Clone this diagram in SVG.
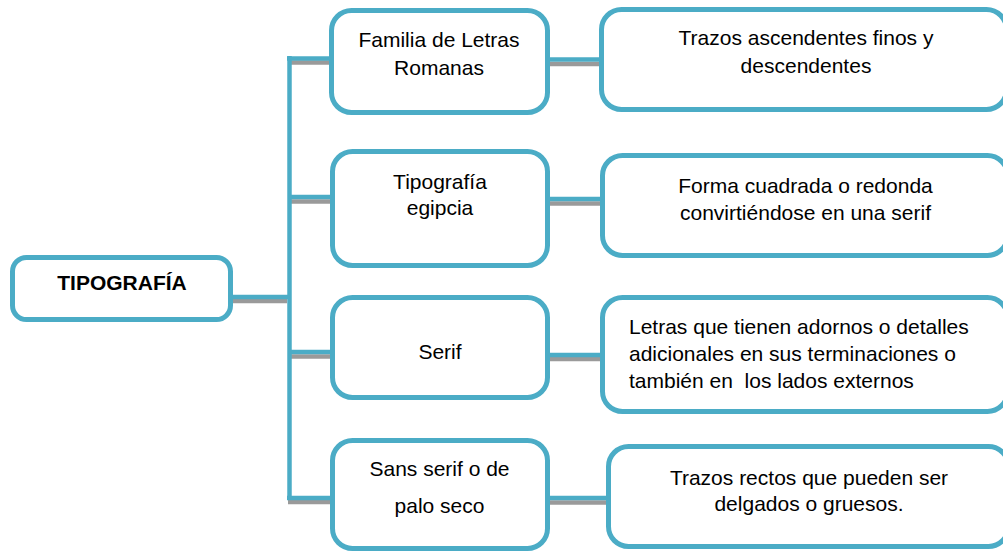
<svg xmlns="http://www.w3.org/2000/svg" width="1003" height="552" viewBox="0 0 1003 552">
<style>
.box{fill:#ffffff;stroke:#4bacc6;stroke-width:5}
.t{font-family:"Liberation Sans",Arial,sans-serif;font-size:21px;fill:#000000}
.c{text-anchor:middle}
.b{font-weight:bold}
.teal{stroke:#4bacc6;stroke-width:4.5;fill:none}
.sh{stroke:#9a9a9a;stroke-width:4.5;fill:none}
</style>
<rect width="1003" height="552" fill="#ffffff"/>
<g id="connectors">
<line class="sh" x1="290" y1="62.5" x2="331" y2="62.5"/>
<line class="sh" x1="550" y1="64" x2="601" y2="64"/>
<line class="sh" x1="290" y1="201.5" x2="331" y2="201.5"/>
<line class="sh" x1="550" y1="203.5" x2="601" y2="203.5"/>
<line class="sh" x1="233" y1="301" x2="287" y2="301"/>
<line class="sh" x1="290" y1="356.5" x2="331" y2="356.5"/>
<line class="sh" x1="550" y1="359" x2="601" y2="359"/>
<line class="sh" x1="288" y1="502" x2="331" y2="502"/>
<line class="sh" x1="550" y1="502.5" x2="607" y2="502.5"/>
<line class="teal" x1="289.5" y1="56" x2="289.5" y2="500" stroke-width="5"/>
<line class="teal" x1="287" y1="58.5" x2="331" y2="58.5"/>
<line class="teal" x1="550" y1="59.5" x2="601" y2="59.5"/>
<line class="teal" x1="289" y1="197" x2="331" y2="197"/>
<line class="teal" x1="550" y1="199" x2="601" y2="199"/>
<line class="teal" x1="233" y1="297" x2="289" y2="297"/>
<line class="teal" x1="289" y1="352" x2="331" y2="352"/>
<line class="teal" x1="550" y1="355" x2="601" y2="355"/>
<line class="teal" x1="287" y1="498" x2="331" y2="498"/>
<line class="teal" x1="550" y1="498" x2="607" y2="498"/>
</g>
<g id="n-tipografia">
<rect class="box" x="12.5" y="257.5" width="218" height="62" rx="14"/>
<text class="t c b" x="122" y="290">TIPOGRAFÍA</text>
</g>
<g id="n-familia">
<rect class="box" x="331.5" y="10.5" width="216" height="102" rx="20"/>
<text class="t c" x="439" y="47">Familia de Letras</text>
<text class="t c" x="439" y="75">Romanas</text>
</g>
<g id="n-trazos-asc">
<rect class="box" x="601.5" y="9.5" width="405" height="100" rx="20"/>
<text class="t c" x="806" y="45">Trazos ascendentes finos y</text>
<text class="t c" x="806" y="73">descendentes</text>
</g>
<g id="n-egipcia">
<rect class="box" x="332.5" y="151.5" width="215" height="114" rx="20"/>
<text class="t c" x="440" y="189">Tipografía</text>
<text class="t c" x="440" y="215">egipcia</text>
</g>
<g id="n-forma">
<rect class="box" x="602.5" y="155.5" width="405" height="100" rx="20"/>
<text class="t c" x="805.5" y="193">Forma cuadrada o redonda</text>
<text class="t c" x="805.5" y="220">convirtiéndose en una serif</text>
</g>
<g id="n-serif">
<rect class="box" x="332.5" y="297.5" width="215" height="100" rx="20"/>
<text class="t c" x="440" y="359">Serif</text>
</g>
<g id="n-letras">
<rect class="box" x="602.5" y="297.5" width="405" height="114" rx="20"/>
<text class="t" x="629" y="334">Letras que tienen adornos o detalles</text>
<text class="t" x="629" y="361">adicionales en sus terminaciones o</text>
<text class="t" x="629" y="388" xml:space="preserve">también en  los lados externos</text>
</g>
<g id="n-sans">
<rect class="box" x="332.5" y="440.5" width="215" height="108" rx="20"/>
<text class="t c" x="439.5" y="476">Sans serif o de</text>
<text class="t c" x="439.5" y="513">palo seco</text>
</g>
<g id="n-trazos-rectos">
<rect class="box" x="608.5" y="446.5" width="400" height="100" rx="20"/>
<text class="t c" x="809" y="485">Trazos rectos que pueden ser</text>
<text class="t c" x="809" y="511">delgados o gruesos.</text>
</g>
</svg>
